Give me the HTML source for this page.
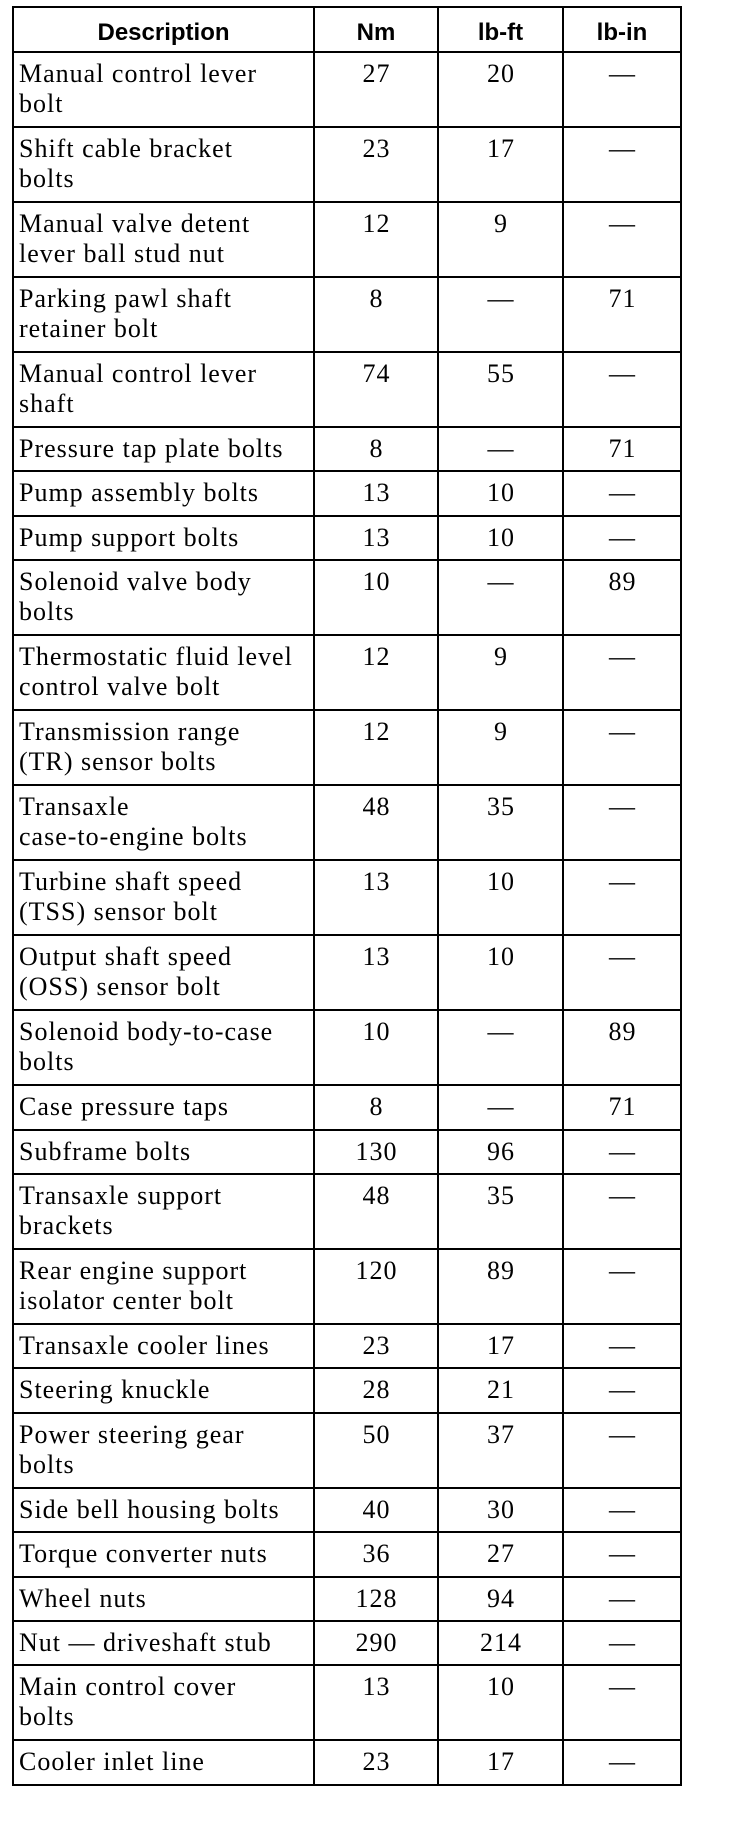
<!DOCTYPE html>
<html><head><meta charset="utf-8"><style>
html,body{margin:0;padding:0;background:#fff;width:736px;height:1824px;overflow:hidden}
table{position:absolute;left:12px;top:6px;border-collapse:collapse;table-layout:fixed;width:668px}
td,th{border:2px solid #000;vertical-align:top;padding:6px 4px 0 5px;font-family:"Liberation Serif",serif;font-size:26px;line-height:30px;color:#000;overflow:hidden;white-space:nowrap;letter-spacing:1px}
th{font-family:"Liberation Sans",sans-serif;font-weight:bold;font-size:24px;height:37px;padding:6px 4px 0 4px;text-align:center;vertical-align:middle;letter-spacing:0}
td.c{text-align:center}
tr.t td{height:67px}
tr.o td{height:36.4px}
</style></head><body>
<table>
<colgroup><col style="width:301px"><col style="width:124px"><col style="width:125px"><col style="width:118px"></colgroup>
<tr><th>Description</th><th>Nm</th><th>lb-ft</th><th>lb-in</th></tr>
<tr class="t"><td>Manual control lever<br>bolt</td><td class="c">27</td><td class="c">20</td><td class="c">—</td></tr>
<tr class="t"><td>Shift cable bracket<br>bolts</td><td class="c">23</td><td class="c">17</td><td class="c">—</td></tr>
<tr class="t"><td>Manual valve detent<br>lever ball stud nut</td><td class="c">12</td><td class="c">9</td><td class="c">—</td></tr>
<tr class="t"><td>Parking pawl shaft<br>retainer bolt</td><td class="c">8</td><td class="c">—</td><td class="c">71</td></tr>
<tr class="t"><td>Manual control lever<br>shaft</td><td class="c">74</td><td class="c">55</td><td class="c">—</td></tr>
<tr class="o"><td>Pressure tap plate bolts</td><td class="c">8</td><td class="c">—</td><td class="c">71</td></tr>
<tr class="o"><td>Pump assembly bolts</td><td class="c">13</td><td class="c">10</td><td class="c">—</td></tr>
<tr class="o"><td>Pump support bolts</td><td class="c">13</td><td class="c">10</td><td class="c">—</td></tr>
<tr class="t"><td>Solenoid valve body<br>bolts</td><td class="c">10</td><td class="c">—</td><td class="c">89</td></tr>
<tr class="t"><td>Thermostatic fluid level<br>control valve bolt</td><td class="c">12</td><td class="c">9</td><td class="c">—</td></tr>
<tr class="t"><td>Transmission range<br>(TR) sensor bolts</td><td class="c">12</td><td class="c">9</td><td class="c">—</td></tr>
<tr class="t"><td>Transaxle<br>case-to-engine bolts</td><td class="c">48</td><td class="c">35</td><td class="c">—</td></tr>
<tr class="t"><td>Turbine shaft speed<br>(TSS) sensor bolt</td><td class="c">13</td><td class="c">10</td><td class="c">—</td></tr>
<tr class="t"><td>Output shaft speed<br>(OSS) sensor bolt</td><td class="c">13</td><td class="c">10</td><td class="c">—</td></tr>
<tr class="t"><td>Solenoid body-to-case<br>bolts</td><td class="c">10</td><td class="c">—</td><td class="c">89</td></tr>
<tr class="o"><td>Case pressure taps</td><td class="c">8</td><td class="c">—</td><td class="c">71</td></tr>
<tr class="o"><td>Subframe bolts</td><td class="c">130</td><td class="c">96</td><td class="c">—</td></tr>
<tr class="t"><td>Transaxle support<br>brackets</td><td class="c">48</td><td class="c">35</td><td class="c">—</td></tr>
<tr class="t"><td>Rear engine support<br>isolator center bolt</td><td class="c">120</td><td class="c">89</td><td class="c">—</td></tr>
<tr class="o"><td>Transaxle cooler lines</td><td class="c">23</td><td class="c">17</td><td class="c">—</td></tr>
<tr class="o"><td>Steering knuckle</td><td class="c">28</td><td class="c">21</td><td class="c">—</td></tr>
<tr class="t"><td>Power steering gear<br>bolts</td><td class="c">50</td><td class="c">37</td><td class="c">—</td></tr>
<tr class="o"><td>Side bell housing bolts</td><td class="c">40</td><td class="c">30</td><td class="c">—</td></tr>
<tr class="o"><td>Torque converter nuts</td><td class="c">36</td><td class="c">27</td><td class="c">—</td></tr>
<tr class="o"><td>Wheel nuts</td><td class="c">128</td><td class="c">94</td><td class="c">—</td></tr>
<tr class="o"><td>Nut — driveshaft stub</td><td class="c">290</td><td class="c">214</td><td class="c">—</td></tr>
<tr class="t"><td>Main control cover<br>bolts</td><td class="c">13</td><td class="c">10</td><td class="c">—</td></tr>
<tr class="o"><td>Cooler inlet line</td><td class="c">23</td><td class="c">17</td><td class="c">—</td></tr>
</table>
</body></html>
